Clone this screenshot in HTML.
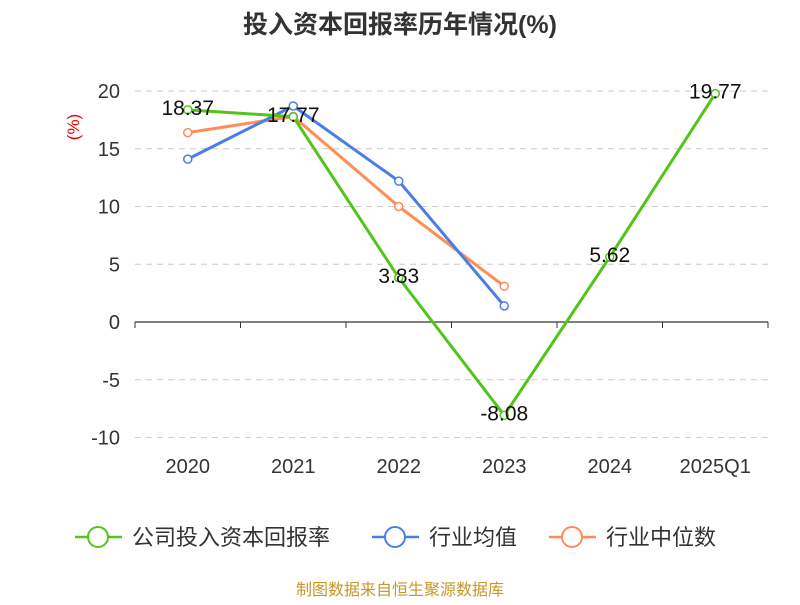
<!DOCTYPE html>
<html><head><meta charset="utf-8"><style>
body{margin:0;background:#fff}
svg text{font-family:"Liberation Sans","Noto Sans CJK SC",sans-serif}
</style></head><body>
<svg width="800" height="600" id="c">
<text x="400" y="33" text-anchor="middle" font-size="25" font-weight="bold" fill="#333">投入资本回报率历年情况(%)</text>
<text transform="translate(79,127) rotate(-90)" text-anchor="middle" font-size="17" fill="#e00">(%)</text>
<g id="grid"></g><g id="axes"></g><g id="series"></g><g id="labels"></g>
<g font-size="22" fill="#333">
<g><line x1="75" y1="537" x2="122" y2="537" stroke="#52c41a" stroke-width="2.5"/><circle cx="98" cy="537" r="10" fill="#fff" stroke="#52c41a" stroke-width="2"/><text x="132" y="545">公司投入资本回报率</text></g>
<g><line x1="372" y1="537" x2="419" y2="537" stroke="#4a7ee6" stroke-width="2.5"/><circle cx="395" cy="537" r="10" fill="#fff" stroke="#4a7ee6" stroke-width="2"/><text x="429" y="545">行业均值</text></g>
<g><line x1="549" y1="537" x2="596" y2="537" stroke="#ff8c55" stroke-width="2.5"/><circle cx="572" cy="537" r="10" fill="#fff" stroke="#ff8c55" stroke-width="2"/><text x="606" y="545">行业中位数</text></g>
</g>
<text x="400" y="595" text-anchor="middle" font-size="16" fill="#c8962b">制图数据来自恒生聚源数据库</text>
</svg>
<script>
const categories=["2020","2021","2022","2023","2024","2025Q1"];
const companyVals=[18.37,17.77,3.83,-8.08,5.62,19.77];
const avgVals=[14.1,18.7,12.2,1.4];
const medianVals=[16.4,17.8,10.0,3.1];
const yTicks=[20,15,10,5,0,-5,-10];
const NS="http://www.w3.org/2000/svg";
const X0=135,X1=768,bw=(X1-X0)/categories.length;
const xs=i=>X0+bw*(i+0.5);
const ys=v=>322-v*11.55;
function mk(t,a,p){const e=document.createElementNS(NS,t);for(const k in a)e.setAttribute(k,a[k]);p.appendChild(e);return e;}
const grid=document.getElementById('grid'),axes=document.getElementById('axes'),ser=document.getElementById('series'),lab=document.getElementById('labels');
yTicks.forEach(v=>{
 if(v!==0){const l=mk('line',{x1:X0,x2:X1,y1:ys(v),y2:ys(v),stroke:'#ccc','stroke-dasharray':'6,5'},grid);
 
 }
 const t=mk('text',{x:120,y:ys(v)+7,'text-anchor':'end','font-size':20,fill:'#333'},axes);t.textContent=v;
 
 
});
const ax=mk('line',{x1:X0,x2:X1,y1:ys(0),y2:ys(0),stroke:'#333','stroke-width':1.2},axes);


for(let i=0;i<=categories.length;i++){const tk=mk('line',{x1:X0+bw*i,x2:X0+bw*i,y1:ys(0),y2:ys(0)+6,stroke:'#333'},axes);
 
 }
categories.forEach((c,i)=>{const t=mk('text',{x:xs(i),y:473,'text-anchor':'middle','font-size':20,fill:'#333'},axes);t.textContent=c;
 
 });
function series(vals,color,name){
 const p=mk('polyline',{points:vals.map((v,i)=>xs(i)+','+ys(v)).join(' '),fill:'none',stroke:color,'stroke-width':3},ser);
 
 
 vals.forEach((v,i)=>{const c=mk('circle',{cx:xs(i),cy:ys(v),r:4,fill:'#fff',stroke:color,'stroke-width':1.5},ser);
  
  });
}
series(medianVals,'#ff8c55','industry-median');
series(avgVals,'#4a7ee6','industry-avg');
series(companyVals,'#52c41a','company');
companyVals.forEach((v,i)=>{const t=mk('text',{x:xs(i),y:ys(v)+5,'text-anchor':'middle','font-size':21,fill:'#111'},lab);t.textContent=v.toFixed(2);
 
 });
</script>
</body></html>
